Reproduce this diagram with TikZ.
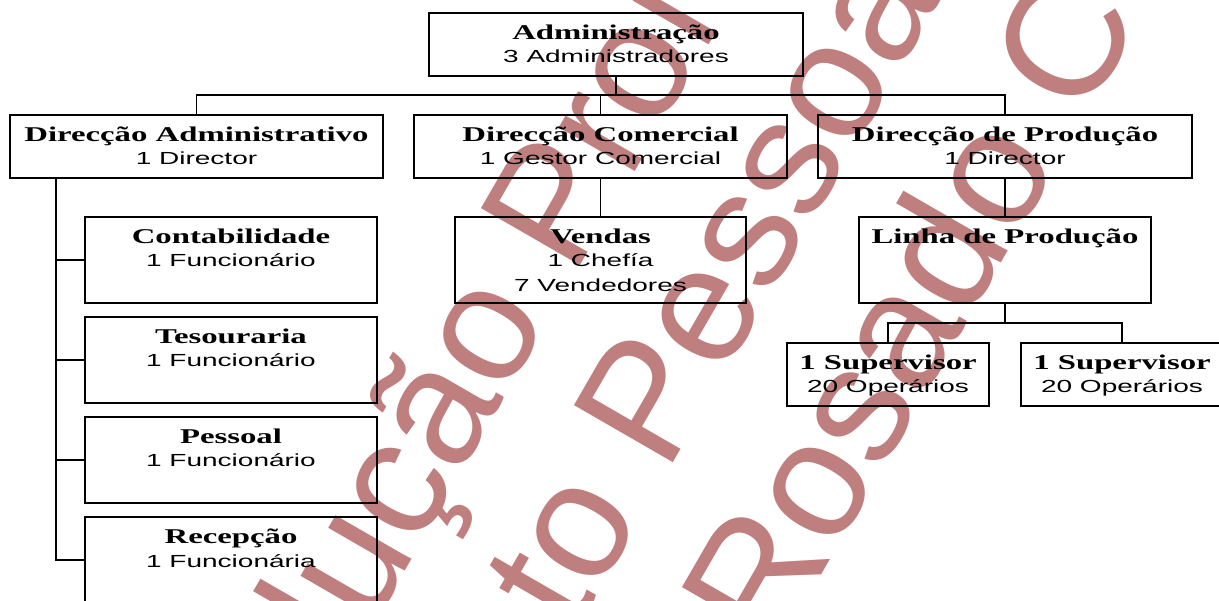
\documentclass[tikz,border=0pt]{standalone}
\usepackage{fontspec}
\newfontfamily\bxserif[FakeStretch=1.56]{Liberation Serif}
\newfontfamily\bxsans[FakeStretch=1.6]{Liberation Sans}
\newfontfamily\wmfont{Liberation Sans}
\usetikzlibrary{calc}
\definecolor{wmred}{RGB}{191,127,127}
\tikzset{
  orgbox/.style={draw=black, line width=1.8pt, inner sep=0pt, outer sep=0pt, anchor=north west},
  ttl/.style={font=\bxserif\bfseries\fontsize{21}{21}\selectfont, inner sep=0pt, anchor=base},
  sub/.style={font=\bxsans\fontsize{17.5}{17.5}\selectfont, inner sep=0pt, anchor=base},
  conn/.style={line width=1.8pt, line cap=rect},
  wm/.style={font=\wmfont\fontsize{166}{166}\selectfont, text=wmred, inner sep=0pt, anchor=base west, rotate=60},
}
\begin{document}
\begin{tikzpicture}[x=1pt,y=1pt]
\useasboundingbox (0,0) rectangle (1219,-601);
% watermark
\begin{scope}
\clip (0,0) rectangle (1219,-601);
\node[wm] (wm1) at (324.8,-709.4) {dução Proi};
\node[wm] (wm2) at (574.4,-634.2) {to Pessoa};
\node[wm] (wm3) at (774.1,-657.1) {Rosado C};
\end{scope}
% boxes
\node[orgbox, minimum width=374pt, minimum height=63pt] (admin) at (429,-13) {};
\node[orgbox, minimum width=373pt, minimum height=63pt] (dadm) at (10,-115) {};
\node[orgbox, minimum width=373pt, minimum height=63pt] (dcom) at (414,-115) {};
\node[orgbox, minimum width=374pt, minimum height=63pt] (dprod) at (818,-115) {};
\node[orgbox, minimum width=292pt, minimum height=86pt] (contab) at (85,-217) {};
\node[orgbox, minimum width=292pt, minimum height=86pt] (tes) at (85,-317) {};
\node[orgbox, minimum width=292pt, minimum height=86pt] (pess) at (85,-417) {};
\node[orgbox, minimum width=292pt, minimum height=86pt] (recep) at (85,-517) {};
\node[orgbox, minimum width=291pt, minimum height=86pt] (vendas) at (455,-217) {};
\node[orgbox, minimum width=292pt, minimum height=86pt] (linha) at (859,-217) {};
\node[orgbox, minimum width=202pt, minimum height=63pt] (sup1) at (787,-343) {};
\node[orgbox, minimum width=202pt, minimum height=63pt] (sup2) at (1021,-343) {};
% texts
\node[ttl] (admin-a) at (616,-39.5) {Administração};
\node[sub] (admin-b) at (616,-63) {3 Administradores};
\node[ttl] (dadm-a) at (196.5,-141.5) {Direcção Administrativo};
\node[sub] (dadm-b) at (196.5,-165) {1 Director};
\node[ttl] (dcom-a) at (600.5,-141.5) {Direcção Comercial};
\node[sub] (dcom-b) at (600.5,-165) {1 Gestor Comercial};
\node[ttl] (dprod-a) at (1005,-141.5) {Direcção de Produção};
\node[sub] (dprod-b) at (1005,-165) {1 Director};
\node[ttl] (contab-a) at (231,-243.5) {Contabilidade};
\node[sub] (contab-b) at (231,-267) {1 Funcionário};
\node[ttl] (tes-a) at (231,-343.5) {Tesouraria};
\node[sub] (tes-b) at (231,-367) {1 Funcionário};
\node[ttl] (pess-a) at (231,-443.5) {Pessoal};
\node[sub] (pess-b) at (231,-467) {1 Funcionário};
\node[ttl] (recep-a) at (231,-543.5) {Recepção};
\node[sub] (recep-b) at (231,-567) {1 Funcionária};
\node[ttl] (vendas-a) at (600.5,-243.5) {Vendas};
\node[sub] (vendas-b) at (600.5,-267) {1 Chefía};
\node[sub] (vendas-c) at (600.5,-292) {7 Vendedores};
\node[ttl] (linha-a) at (1005,-243.5) {Linha de Produção};
\node[ttl] (sup1-a) at (888,-369.5) {1 Supervisor};
\node[sub] (sup1-b) at (888,-393) {20 Operários};
\node[ttl] (sup2-a) at (1122,-369.5) {1 Supervisor};
\node[sub] (sup2-b) at (1122,-393) {20 Operários};
% connectors
\coordinate (bus) at (616,-95);
\coordinate (spine) at (56,-178);
\coordinate (bus2) at (1005,-323);
\draw[conn] (admin.south) -- (bus);
\draw[conn] (dadm.north) |- (bus) -| (dprod.north);
\draw[conn] (dcom.north) -- (dcom.north |- bus);
\draw[conn] (spine) |- (recep.west);
\draw[conn] (contab.west) -- (contab.west -| spine);
\draw[conn] (tes.west) -- (tes.west -| spine);
\draw[conn] (pess.west) -- (pess.west -| spine);
\draw[conn] (dcom.south) -- (dcom.south |- vendas.north);
\draw[conn] (dprod.south) -- (dprod.south |- linha.north);
\draw[conn] (linha.south) -- (bus2);
\draw[conn] (sup1.north) |- (bus2) -| (sup2.north);
\end{tikzpicture}
\end{document}
